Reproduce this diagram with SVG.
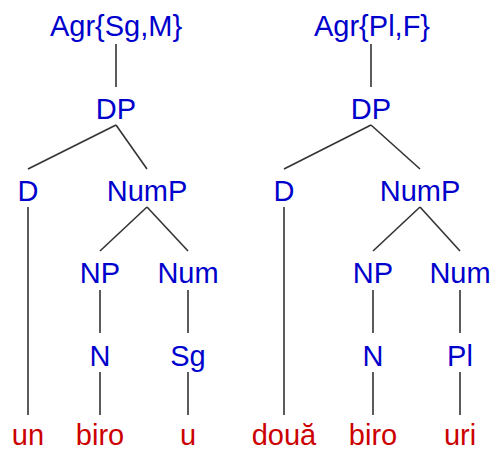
<svg xmlns="http://www.w3.org/2000/svg" width="496" height="453" viewBox="0 0 496 453">
<style>
text{font-family:"Liberation Sans",Arial,sans-serif;font-size:29px;text-anchor:middle}
.c{fill:#0000cc}
.w{fill:#cc0000}
.e line{stroke:#333;stroke-width:1.6}
</style>
<rect width="496" height="453" fill="#fff"/>
<g id="connectors" class="e">
<line x1="116" y1="44" x2="116" y2="87"/>
<line x1="116" y1="125" x2="28" y2="169"/>
<line x1="116" y1="125" x2="147" y2="169"/>
<line x1="28" y1="207" x2="28" y2="415"/>
<line x1="147" y1="207" x2="100" y2="251"/>
<line x1="147" y1="207" x2="188" y2="251"/>
<line x1="100" y1="290" x2="100" y2="333"/>
<line x1="188" y1="290" x2="188" y2="333"/>
<line x1="100" y1="372" x2="100" y2="415"/>
<line x1="188" y1="372" x2="188" y2="415"/>
<line x1="371" y1="44" x2="371" y2="87"/>
<line x1="371" y1="125" x2="284" y2="169"/>
<line x1="371" y1="125" x2="420" y2="169"/>
<line x1="284" y1="207" x2="284" y2="415"/>
<line x1="420" y1="207" x2="373" y2="251"/>
<line x1="420" y1="207" x2="460" y2="251"/>
<line x1="373" y1="290" x2="373" y2="333"/>
<line x1="460" y1="290" x2="460" y2="333"/>
<line x1="373" y1="372" x2="373" y2="415"/>
<line x1="460" y1="372" x2="460" y2="415"/>
</g>
<g id="agr1"><text class="c" x="116" y="36">Agr{Sg,M}</text></g>
<g id="dp1"><text class="c" x="116" y="119">DP</text></g>
<g id="d1"><text class="c" x="28" y="201">D</text></g>
<g id="nump1"><text class="c" x="147" y="201">NumP</text></g>
<g id="np1"><text class="c" x="100" y="283">NP</text></g>
<g id="num1"><text class="c" x="188" y="283">Num</text></g>
<g id="n1"><text class="c" x="100" y="366">N</text></g>
<g id="sg1"><text class="c" x="188" y="366">Sg</text></g>
<g id="un"><text class="w" x="28" y="445">un</text></g>
<g id="biro1"><text class="w" x="100" y="445">biro</text></g>
<g id="u"><text class="w" x="188" y="445">u</text></g>
<g id="agr2"><text class="c" x="372" y="36">Agr{Pl,F}</text></g>
<g id="dp2"><text class="c" x="371" y="119">DP</text></g>
<g id="d2"><text class="c" x="284" y="201">D</text></g>
<g id="nump2"><text class="c" x="420" y="201">NumP</text></g>
<g id="np2"><text class="c" x="373" y="283">NP</text></g>
<g id="num2"><text class="c" x="460" y="283">Num</text></g>
<g id="n2"><text class="c" x="373" y="366">N</text></g>
<g id="pl2"><text class="c" x="460" y="366">Pl</text></g>
<g id="doua"><text class="w" x="284" y="445">două</text></g>
<g id="biro2"><text class="w" x="373" y="445">biro</text></g>
<g id="uri"><text class="w" x="460" y="445">uri</text></g>
</svg>
